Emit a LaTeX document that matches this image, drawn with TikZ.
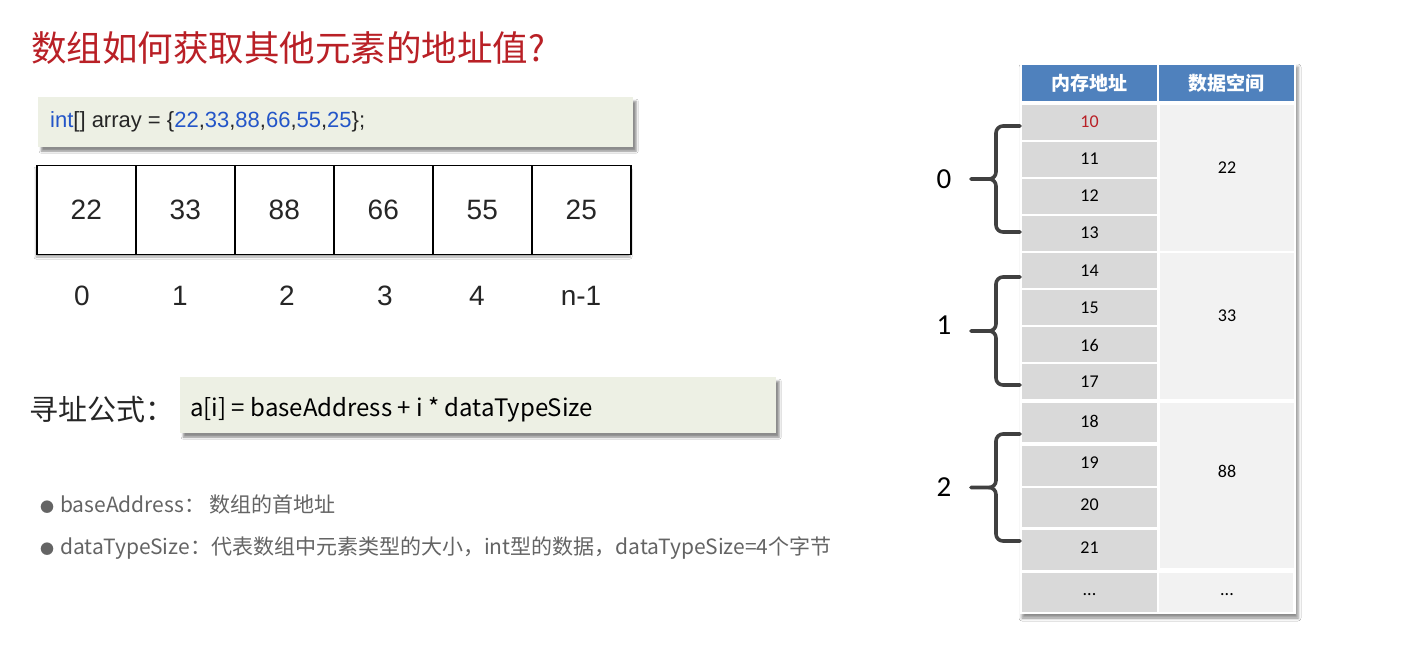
\documentclass[tikz,border=0pt]{standalone}
\usepackage{fontspec}
\setmainfont{Liberation Sans}
\newfontfamily\cjk{Noto Sans CJK SC}
\newfontfamily\carl{Carlito}
\usetikzlibrary{shadows.blur}

\definecolor{titlered}{RGB}{185,32,38}
\definecolor{codebg}{RGB}{237,240,228}
\definecolor{codeblue}{RGB}{35,85,200}
\definecolor{headblue}{RGB}{79,129,189}
\definecolor{addrgrey}{RGB}{217,217,217}
\definecolor{datagrey}{RGB}{242,242,242}
\definecolor{bracegrey}{RGB}{64,64,64}
\definecolor{notegrey}{RGB}{100,100,100}
\definecolor{textdark}{RGB}{38,38,38}

\newcommand{\fs}[1]{\fontsize{#1}{#1}\selectfont}
\newcommand{\dotmark}{{\fs{14}●}\hspace{6pt}}

\tikzset{
  greenbox/.style={fill=codebg, draw=none, inner sep=0pt,
    blur shadow={shadow xshift=3pt, shadow yshift=-4pt, shadow blur radius=2pt, shadow opacity=45}},
  cell/.style={draw=black, line width=1.6pt, minimum width=99pt, minimum height=89pt,
    inner sep=0pt, font=\fs{28}, text=textdark},
  idx/.style={font=\fs{28}, text=textdark, inner sep=0pt},
  head/.style={fill=headblue, minimum height=36pt, inner sep=0pt, text=white,
    font=\cjk\bfseries\fs{19}},
  addr/.style={fill=addrgrey, minimum width=135pt, inner sep=0pt},
  datac/.style={fill=datagrey, minimum width=134pt, inner sep=0pt},
  tnum/.style={font=\carl\fs{18}, text=black, inner sep=0pt},
  bracepath/.style={draw=bracegrey, line width=3.6pt, line cap=round, line join=round},
  blabel/.style={font=\carl\fs{29}, text=black, inner sep=0pt},
  note/.style={font=\cjk\fs{21}, text=notegrey, inner sep=0pt, anchor=west},
}

\begin{document}
\begin{tikzpicture}[x=1pt, y=-1pt]
\useasboundingbox (0,0) rectangle (1416,651);
\fill[white] (0,0) rectangle (1416,651);

% title
\node[anchor=west, inner sep=0pt, font=\cjk\fs{35.5}, text=titlered] (title) at (31,48) {数组如何获取其他元素的地址值?};

% code line
\node[greenbox, minimum width=595pt, minimum height=50pt, anchor=north west] (code) at (38,97) {};
\node[anchor=west, inner sep=0pt, font=\fs{22}, text=textdark] (codetxt) at (50,122)
  {\textcolor{codeblue}{int}[] array = \{\textcolor{codeblue}{22},\textcolor{codeblue}{33},\textcolor{codeblue}{88},\textcolor{codeblue}{66},\textcolor{codeblue}{55},\textcolor{codeblue}{25}\};};

% array cells
\fill[black!30, blur shadow={shadow xshift=0pt, shadow yshift=-3pt, shadow blur radius=2pt, shadow opacity=35}, draw=none] (36,166) rectangle (630,254);
\foreach \v [count=\i from 0] in {22,33,88,66,55,25}
  \node[cell, fill=white, anchor=west] (c\i) at (36+99*\i,210) {\v};

% indices
\node[idx] (i0) at (82,296) {0};
\node[idx] (i1) at (180,296) {1};
\node[idx] (i2) at (287,296) {2};
\node[idx] (i3) at (385,296) {3};
\node[idx] (i4) at (477,296) {4};
\node[idx] (i5) at (581,296) {n-1};

% addressing formula
\node[anchor=west, inner sep=0pt, font=\cjk\fs{29}, text=textdark] (flabel) at (29,410) {寻址公式：};
\node[greenbox, minimum width=596pt, minimum height=56pt, anchor=north west] (formula) at (180,377) {};
\node[anchor=west, inner sep=0pt, font=\cjk\fs{24}, text=black] (ftxt) at (190,410)
  {a[i] = baseAddress + i * dataTypeSize};

% notes
\node[note] (n1) at (40,505) {\dotmark baseAddress：\hspace{4pt}数组的首地址};
\node[note] (n2) at (40,548) {\dotmark dataTypeSize：代表数组中元素类型的大小，int型的数据，dataTypeSize=4个字节};

% memory table
\fill[white, blur shadow={shadow xshift=2pt, shadow yshift=-4pt, shadow blur radius=3pt, shadow opacity=45}] (1020,63) rectangle (1296,614);
\node[head, minimum width=135pt] (h1) at (1089.5,83) {内存地址};
\node[head, minimum width=135pt] (h2) at (1226.5,83) {数据空间};

\foreach \n/\c/\h in {10/122.5/35, 11/159.5/35, 12/196.5/35, 13/233.5/35,
                      14/270.5/35, 15/307.5/35, 16/344.5/35, 17/381.5/35,
                      18/422.5/39, 19/466/40, 20/507.5/39, 21/550/40}
  \node[addr, minimum height=\h pt] (a\n) at (1089.5,\c) {};
\node[addr, minimum height=39pt] (adots) at (1089.5,592.5) {};

\node[tnum, text=titlered] (t10) at (1089.5,122) {10};
\foreach \n/\y in {11/159, 12/196, 13/233, 14/271, 15/308, 16/345, 17/382,
                   18/421, 19/463, 20/505, 21/548}
  \node[tnum] (t\n) at (1089.5,\y) {\n};
\node[tnum] (tdots) at (1089.5,595) {...};

\node[datac, minimum height=146pt] (d0) at (1227,178) {};
\node[datac, minimum height=146pt] (d1) at (1227,326) {};
\node[datac, minimum height=165pt] (d2) at (1227,485.5) {};
\node[datac, minimum height=39pt] (d3) at (1226,592.5) {};
\node[tnum] (v0) at (1227,168) {22};
\node[tnum] (v1) at (1227,316) {33};
\node[tnum] (v2) at (1227,471) {88};
\node[tnum] (v3) at (1227,595) {...};

% group braces with element indices
\foreach \t/\b/\ly/\lab [count=\k from 0] in {126/232/179/0, 277/385/325/1, 434/541/487/2} {
  \pgfmathsetmacro{\mid}{(\t+\b)/2}
  \draw[bracepath] (1020,\t) -- (1003,\t) to[out=180,in=90] (996,\t+7)
    -- (996,\mid-7) to[out=-90,in=0] (989,\mid) -- (971,\mid);
  \draw[bracepath] (989,\mid) to[out=0,in=90] (996,\mid+7)
    -- (996,\b-7) to[out=-90,in=180] (1003,\b) -- (1020,\b);
  \node[blabel] (g\k) at (944,\ly) {\lab};
}
\end{tikzpicture}
\end{document}
